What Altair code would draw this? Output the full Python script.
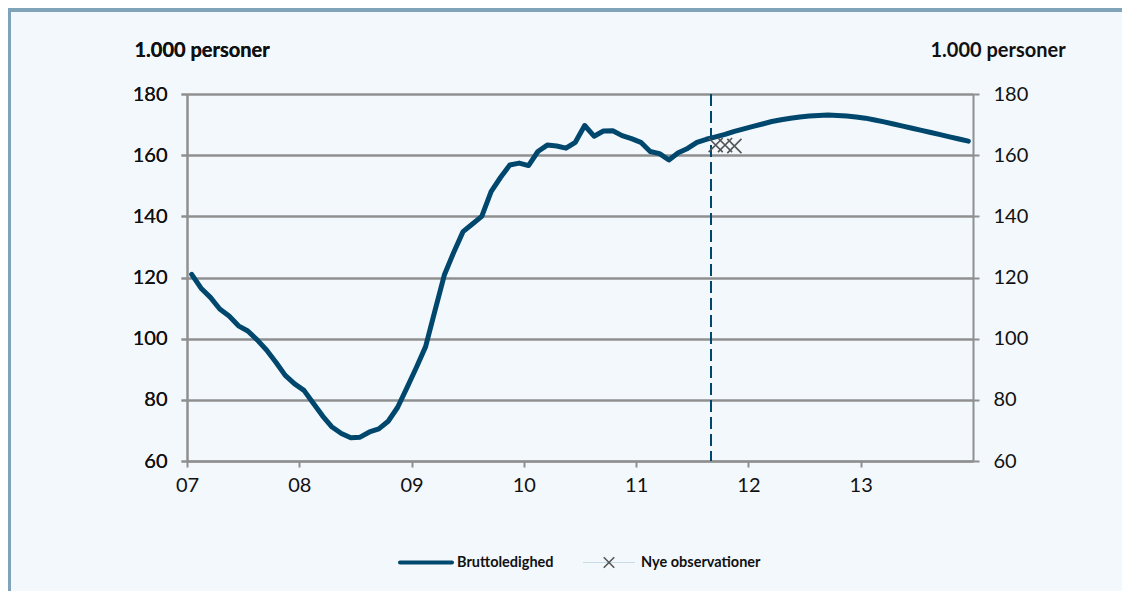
import altair as alt
import pandas as pd

# ---- data ----
START_YEAR = 2007
brutto = [121.0, 116.5, 113.5, 109.7, 107.4, 104.2, 102.5, 99.6, 96.3, 92.3, 88.0, 85.2,
          83.1, 78.9, 74.7, 71.1, 69.0, 67.6, 67.8, 69.5, 70.5, 73.0, 77.5, 83.9,
          90.5, 97.4, 109.2, 120.8, 128.2, 135.0, 137.5, 140.0, 148.1, 152.7, 156.8, 157.4,
          156.6, 161.2, 163.3, 163.0, 162.3, 164.2, 169.7, 166.2, 167.9, 168.0, 166.4, 165.4,
          164.2, 161.2, 160.5, 158.4, 160.8, 162.2, 164.2, 165.2, 166.0, 166.8, 167.8, 168.6,
          169.4, 170.2, 171.0, 171.6, 172.1, 172.5, 172.8, 173.0, 173.1, 173.0, 172.8, 172.5,
          172.1, 171.5, 170.9, 170.2, 169.5, 168.8, 168.1, 167.4, 166.7, 166.0, 165.3, 164.6]
nye_months = [56, 57, 58]          # month index from Jan 2007
nye_values = [163.3, 163.3, 163.0]
forecast_start = 2011 + 8 / 12     # dashed line
year_ticks = [2007, 2008, 2009, 2010, 2011, 2012, 2013]
y_ticks = [60, 80, 100, 120, 140, 160, 180]
legend_labels = ["Bruttoledighed", "Nye observationer"]
axis_title = "1.000 personer"

LINE_COLOR = "#00476e"
GRID = "#8f8f8f"
BG = "#f3f8fc"
FRAME = "#7fa3b8"
FONT = "Lato"

W, H = 786, 367
PAD_L, PAD_T = 179, 86
TOTAL_W, TOTAL_H = 1114, 583

df = pd.DataFrame({"x": [START_YEAR + (i + 0.5) / 12 for i in range(len(brutto))],
                   "y": brutto})
df_nye = pd.DataFrame({"x": [START_YEAR + (m + 0.5) / 12 for m in nye_months],
                       "y": nye_values})
df_fc = pd.DataFrame({"x": [forecast_start]})

xscale = alt.Scale(domain=[2007, 2014], nice=False, zero=False)
yscale = alt.Scale(domain=[60, 180], nice=False, zero=False)

xaxis = alt.Axis(values=year_ticks, labelExpr="substring(toString(datum.value), 2)",
                 title=None, grid=False, domainColor=GRID, domainWidth=2, tickColor=GRID,
                 tickWidth=2, tickSize=6, labelFont=FONT, labelFontSize=20,
                 labelColor="#111", labelPadding=8, labelFlush=False)

left_axis = alt.Axis(orient="left", values=y_ticks, title=axis_title, titleAngle=0,
                     titleAlign="left", titleBaseline="alphabetic", titleX=-53, titleY=-38,
                     titleFont=FONT, titleFontSize=20, titleFontWeight="bold",
                     titleColor="#111", grid=True, gridColor=GRID, gridWidth=2,
                     domainColor=GRID, domainWidth=2, tickColor=GRID, tickWidth=2,
                     tickSize=6, labelFont=FONT, labelFontSize=20, labelColor="#111",
                     labelPadding=14, labelFlush=False)
right_axis = alt.Axis(orient="right", values=y_ticks, title=axis_title, titleAngle=0,
                      titleAlign="left", titleBaseline="alphabetic", titleX=-43, titleY=-38,
                      titleFont=FONT, titleFontSize=20, titleFontWeight="bold",
                      titleColor="#111", grid=False,
                      domainColor=GRID, domainWidth=2, tickColor=GRID, tickWidth=2,
                      tickSize=6, labelFont=FONT, labelFontSize=20, labelColor="#111",
                      labelPadding=14, labelFlush=False)

X = alt.X("x:Q", scale=xscale, axis=xaxis)

base_line = alt.Chart(df).mark_line(color=LINE_COLOR, strokeWidth=5, strokeCap="round",
                                    strokeJoin="round").encode(
    x=X,
    y=alt.Y("y:Q", scale=yscale, axis=left_axis),
)

right = alt.Chart(df).mark_line(opacity=0).encode(
    x=X,
    y=alt.Y("y:Q", scale=yscale, axis=right_axis),
)

fc_rule = alt.Chart(df_fc).mark_rule(color=LINE_COLOR, strokeWidth=2,
                                     strokeDash=[12, 5]).encode(
    x=X,
    y=alt.value(0), y2=alt.value(H),
)

cross_shape = "M-1,-1L1,1M-1,1L1,-1"
nye = alt.Chart(df_nye).mark_point(shape=cross_shape, filled=False, color="#555555",
                                   strokeWidth=1.6, size=200, opacity=1).encode(
    x=X,
    y=alt.Y("y:Q", scale=yscale, axis=left_axis),
)

# ---- frame decorations ----
band = alt.Chart(pd.DataFrame({"a": [0]})).mark_rect(color=FRAME).encode(
    x=alt.value(-PAD_L), x2=alt.value(TOTAL_W - PAD_L),
    y=alt.value(-PAD_T), y2=alt.value(-PAD_T + 4))
leftbar = alt.Chart(pd.DataFrame({"a": [0]})).mark_rect(color=FRAME).encode(
    x=alt.value(-PAD_L), x2=alt.value(-PAD_L + 3),
    y=alt.value(-PAD_T), y2=alt.value(TOTAL_H - PAD_T))

# ---- legend ----
ly = 468.5
leg1 = alt.Chart(pd.DataFrame({"a": [0]})).mark_rule(color=LINE_COLOR, strokeWidth=4,
                                                    strokeCap="round").encode(
    x=alt.value(213), x2=alt.value(265), y=alt.value(ly))
leg1t = alt.Chart(pd.DataFrame({"t": [legend_labels[0]]})).mark_text(
    align="left", baseline="middle", font=FONT, fontSize=14.5, fontWeight="bold",
    color="#111").encode(x=alt.value(270), y=alt.value(ly), text="t:N")
leg2 = alt.Chart(pd.DataFrame({"a": [0]})).mark_rule(color="#c9dbe6", strokeWidth=1).encode(
    x=alt.value(396), x2=alt.value(448), y=alt.value(ly))
leg2p = alt.Chart(pd.DataFrame({"a": [0]})).mark_point(
    shape=cross_shape, filled=False, color="#555555", strokeWidth=1.6, size=110,
    opacity=1).encode(x=alt.value(422), y=alt.value(ly))
leg2t = alt.Chart(pd.DataFrame({"t": [legend_labels[1]]})).mark_text(
    align="left", baseline="middle", font=FONT, fontSize=14.5, fontWeight="bold",
    color="#111").encode(x=alt.value(454), y=alt.value(ly), text="t:N")

chart = alt.layer(band, leftbar, base_line, right, fc_rule, nye,
                  leg1, leg1t, leg2, leg2p, leg2t).resolve_axis(y="independent").properties(
    width=W, height=H,
    autosize=alt.AutoSizeParams(type="none"),
    padding={"left": PAD_L, "top": PAD_T, "right": TOTAL_W - PAD_L - W,
             "bottom": TOTAL_H - PAD_T - H},
    background=BG,
).configure_view(stroke=None)

chart.save("out.html", embed_options={"renderer": "svg", "actions": False})
